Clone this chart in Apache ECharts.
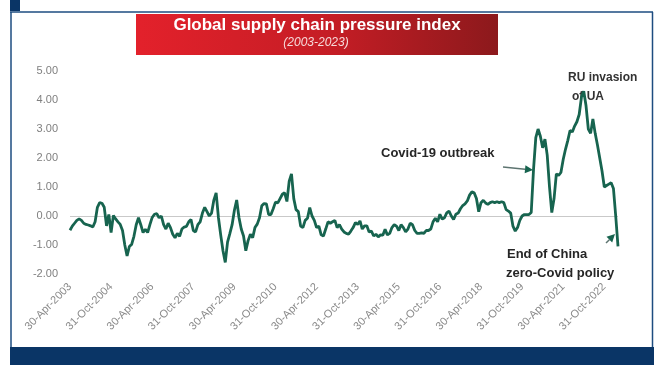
<!DOCTYPE html>
<html>
<head>
<meta charset="utf-8">
<script src="https://cdn.jsdelivr.net/npm/echarts@6/dist/echarts.min.js"></script>
<style>
  html, body { margin: 0; padding: 0; background: #fff; }
  #chart { width: 659px; height: 365px; }
</style>
</head>
<body>
<div id="chart"></div>
<script>
// Global supply chain pressure index, monthly, Apr-2003 .. Apr-2023
const gscpi2003 = [
  -0.49, -0.35, -0.25, -0.15, -0.1, -0.15, -0.25, -0.29, -0.31, -0.34, -0.38, -0.2,
  0.3, 0.46, 0.44, 0.3, -0.34, 0.05, -0.57, 0.02, -0.1, -0.2, -0.29, -0.5,
  -1.0, -1.38, -1.05, -0.98, -0.7, -0.3, -0.06, -0.3, -0.57, -0.46, -0.57, -0.3,
  -0.05, 0.06, 0.08, -0.06, 0.0, -0.3, -0.45, -0.25, -0.4, -0.63, -0.75, -0.6
];
const gscpi2007 = [
  -0.7, -0.45, -0.38, -0.36, -0.2, -0.12, -0.5, -0.55, -0.3, -0.2, 0.1, 0.3,
  0.15, 0.0, 0.1, 0.55, 0.8, -0.05, -0.65, -1.2, -1.6, -0.9, -0.61, -0.3,
  0.2, 0.55, -0.05, -0.45, -0.69, -1.2, -0.85, -0.63, -0.75, -0.4, -0.28, -0.06,
  0.35, 0.43, 0.42, 0.05, 0.05, 0.25, 0.48, 0.45, 0.6, 0.75, 0.8, 0.5
];
const gscpi2011 = [
  1.2, 1.45, 0.6, 0.22, 0.15, -0.35, -0.4, -0.15, -0.08, 0.29, 0.0, -0.15,
  -0.4, -0.35, -0.65, -0.69, -0.45, -0.2, -0.25, -0.2, -0.15, -0.4, -0.3, -0.45,
  -0.55, -0.6, -0.63, -0.52, -0.4, -0.23, -0.29, -0.17, -0.45, -0.34, -0.34, -0.55,
  -0.52, -0.69, -0.63, -0.72, -0.65, -0.66, -0.46, -0.65, -0.6, -0.4, -0.3, -0.35
];
const gscpi2015 = [
  -0.5, -0.3, -0.4, -0.55, -0.45, -0.25, -0.3, -0.5, -0.6, -0.6, -0.58, -0.6,
  -0.5, -0.5, -0.45, -0.2, -0.08, -0.2, 0.06, -0.11, -0.06, 0.11, 0.17, 0.0,
  -0.12, 0.06, 0.1, 0.25, 0.36, 0.42, 0.52, 0.72, 0.83, 0.8, 0.6, 0.15,
  0.46, 0.54, 0.45, 0.4, 0.46, 0.49, 0.46, 0.49, 0.46, 0.49, 0.46, 0.22
];
const gscpi2019 = [
  0.17, 0.1, -0.35, -0.52, -0.4, -0.15, 0.0, 0.05, 0.05, 0.05, 0.12, 1.6,
  2.7, 3.0, 2.75, 2.35, 2.65, 2.1, 1.0, 0.12, 0.6, 1.45, 1.4, 1.5,
  1.95, 2.3, 2.6, 2.95, 2.9, 3.1, 3.25, 3.5, 4.1, 4.3, 3.8, 3.0,
  2.85, 3.35, 2.85, 2.45, 2.0, 1.55, 1.0, 1.05, 1.1, 1.15, 0.95, 0.0,
  -1.05
];
const values = [].concat(gscpi2003, gscpi2007, gscpi2011, gscpi2015, gscpi2019);

const monthNames = ["Jan", "Feb", "Mar", "Apr", "May", "Jun", "Jul", "Aug", "Sep", "Oct", "Nov", "Dec"];
const categories = [];
for (let k = 0; k < values.length; k++) {
  const m = (3 + k) % 12;
  const y = 2003 + Math.floor((3 + k) / 12);
  const lastDay = new Date(y, m + 1, 0).getDate();
  categories.push(lastDay + "-" + monthNames[m] + "-" + y);
}

const lineColor = "#17644f";
const navy = "#0a3566";

// small arrow (line + filled head)
function arrow(x1, y1, x2, y2, stroke, head) {
  const dx = x2 - x1, dy = y2 - y1;
  const len = Math.sqrt(dx * dx + dy * dy);
  const ux = dx / len, uy = dy / len;
  const bx = x2 - ux * 8, by = y2 - uy * 8;
  return [
    { type: "line", z: 10, shape: { x1: x1, y1: y1, x2: bx, y2: by }, style: { stroke: stroke, lineWidth: 1.5 } },
    { type: "polygon", z: 10, shape: { points: [[x2, y2], [bx - uy * 4, by + ux * 4], [bx + uy * 4, by - ux * 4]] }, style: { fill: head } }
  ];
}

const chart = echarts.init(document.getElementById("chart"));
chart.setOption({
  backgroundColor: "#ffffff",
  animation: false,
  grid: { left: 70, right: 41, top: 71, bottom: 91 },
  xAxis: {
    type: "category",
    data: categories,
    boundaryGap: false,
    axisLine: { show: false },
    axisTick: { show: false },
    axisLabel: {
      interval: 17,
      rotate: 45,
      margin: 11,
      color: "#8a8a8a",
      fontSize: 11,
      fontFamily: "Liberation Sans"
    }
  },
  yAxis: {
    type: "value",
    min: -2,
    max: 5,
    interval: 1,
    splitLine: { show: false },
    axisLine: { show: false },
    axisTick: { show: false },
    axisLabel: {
      margin: 12,
      color: "#7f7f7f",
      fontSize: 11,
      fontFamily: "Liberation Sans",
      formatter: v => v.toFixed(2)
    }
  },
  series: [{
    type: "line",
    data: values,
    z: 5,
    showSymbol: false,
    lineStyle: { color: lineColor, width: 2.8 },
    markLine: {
      silent: true,
      symbol: "none",
      label: { show: false },
      lineStyle: { color: "#c9c9c9", width: 1, type: "solid" },
      data: [{ yAxis: 0 }]
    }
  }],
  graphic: [
    // frame
    { type: "rect", shape: { x: 10, y: 0, width: 10, height: 11 }, style: { fill: navy } },
    { type: "line", shape: { x1: 10, y1: 12, x2: 653, y2: 12 }, style: { stroke: "#1d4c80", lineWidth: 1.5 } },
    { type: "line", shape: { x1: 11, y1: 12, x2: 11, y2: 348 }, style: { stroke: "#1d4c80", lineWidth: 1.5 } },
    { type: "line", shape: { x1: 652.5, y1: 12, x2: 652.5, y2: 348 }, style: { stroke: "#1d4c80", lineWidth: 1.5 } },
    { type: "rect", shape: { x: 10, y: 347, width: 644, height: 18 }, style: { fill: navy } },
    // title box
    {
      type: "rect", shape: { x: 136, y: 14, width: 362, height: 41 },
      style: {
        fill: new echarts.graphic.LinearGradient(0, 0, 1, 0, [
          { offset: 0, color: "#e3212b" },
          { offset: 0.55, color: "#c41d25" },
          { offset: 1, color: "#8c191c" }
        ])
      }
    },
    {
      type: "text", x: 317, y: 25,
      style: { text: "Global supply chain pressure index", fill: "#ffffff", font: "bold 17px 'Liberation Sans'", textAlign: "center", textVerticalAlign: "middle" }
    },
    {
      type: "text", x: 316, y: 43,
      style: { text: "(2003-2023)", fill: "#f6dada", font: "italic 12px 'Liberation Sans'", textAlign: "center", textVerticalAlign: "middle" }
    },
    // annotations
    { type: "text", z: 1, x: 381, y: 153, style: { text: "Covid-19 outbreak", fill: "#262626", font: "bold 13px 'Liberation Sans'", textVerticalAlign: "middle" } },
    { type: "text", z: 1, x: 568, y: 78, style: { text: "RU invasion", fill: "#333333", font: "bold 12px 'Liberation Sans'", textVerticalAlign: "middle" } },
    { type: "text", z: 1, x: 572, y: 97, style: { text: "of UA", fill: "#333333", font: "bold 12px 'Liberation Sans'", textVerticalAlign: "middle" } },
    { type: "text", z: 1, x: 507, y: 254, style: { text: "End of China", fill: "#262626", font: "bold 13px 'Liberation Sans'", textVerticalAlign: "middle" } },
    { type: "text", z: 1, x: 506, y: 273, style: { text: "zero-Covid policy", fill: "#262626", font: "bold 13px 'Liberation Sans'", textVerticalAlign: "middle" } }
  ].concat(
    arrow(503, 167, 533, 170, "#5d7470", lineColor),
    arrow(606, 243, 615, 234, "#5d7470", lineColor)
  )
});
</script>
</body>
</html>
